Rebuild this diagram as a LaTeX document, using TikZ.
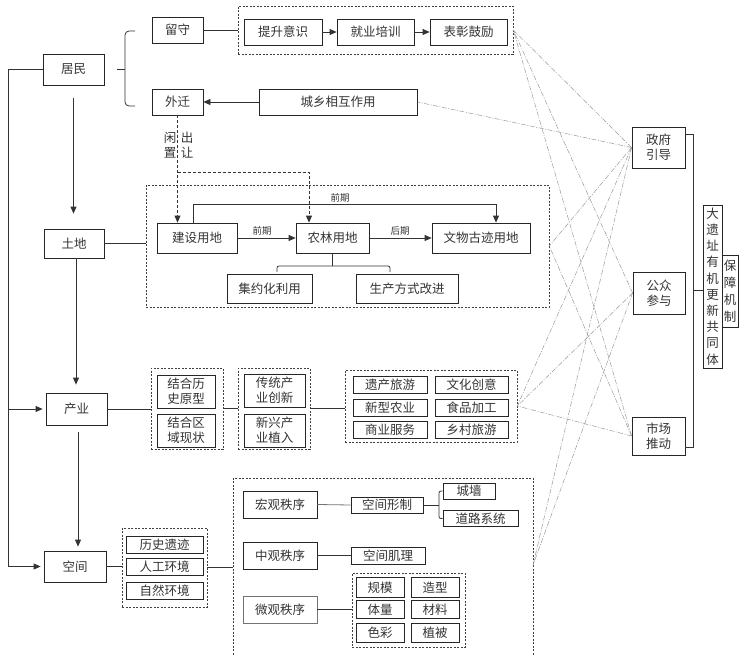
\documentclass[tikz,border=0pt]{standalone}
\usepackage{fontspec}
\setmainfont{Noto Sans CJK SC}
\usetikzlibrary{arrows.meta,calc}
\begin{document}
\begin{tikzpicture}[x=1pt,y=-1pt,
  every node/.style={font=\fontsize{12.5}{15}\selectfont, inner sep=0pt, text=black!80},
  box/.style={draw=black!85, line width=0.8pt, align=center},
  gbox/.style={box, draw=black!55},
  cont/.style={draw=black!75, dash pattern=on 2pt off 1.5pt, line width=0.6pt},
  ln/.style={draw=black!80, line width=0.8pt},
  arr/.style={ln, -{Triangle[length=7pt,width=6pt]}},
  darr/.style={arr, dash pattern=on 3pt off 2pt},
  link/.style={draw=black!40, line width=0.5pt, dash pattern=on 5pt off 1.5pt on 1pt off 1.5pt},
  small/.style={font=\fontsize{9.5}{11}\selectfont}
]
\useasboundingbox (0,0) rectangle (745,656);
\clip (0,0) rectangle (745,656);

% ---------- containers ----------
\node[cont, minimum width=275pt, minimum height=48pt] (c1) at (375.5,30) {};
\node[cont, minimum width=403pt, minimum height=122pt] (c2) at (347.5,246) {};
\node[cont, minimum width=72pt, minimum height=81pt] (c3a) at (187,408.5) {};
\node[cont, minimum width=72pt, minimum height=81pt] (c3b) at (274,408.5) {};
\node[cont, minimum width=172pt, minimum height=72pt] (c3c) at (431,406) {};
\node[cont, minimum width=85pt, minimum height=79pt] (c4a) at (164.5,567.5) {};
\node[cont, minimum width=300pt, minimum height=202pt] (c4b) at (383,579) {};
\node[cont, minimum width=113pt, minimum height=74pt] (c4c) at (408.5,610) {};

% ---------- left column ----------
\node[box, minimum width=61pt, minimum height=31pt] (jumin) at (73.5,69.5) {居民};
\node[box, minimum width=60pt, minimum height=29pt] (tudi) at (74,243.5) {土地};
\node[box, minimum width=61pt, minimum height=32pt] (chanye) at (76.5,409) {产业};
\node[box, minimum width=62pt, minimum height=31pt] (kongjian) at (75,566.5) {空间};

% ---------- residents ----------
\node[box, minimum width=51pt, minimum height=26pt] (liushou) at (177.5,30) {留守};
\node[box, minimum width=51pt, minimum height=26pt] (waiqian) at (177.5,102) {外迁};
\node[box, minimum width=78pt, minimum height=26pt] (tisheng) at (283,32) {提升意识};
\node[box, minimum width=77pt, minimum height=26pt] (jiuye) at (375.5,32) {就业培训};
\node[box, minimum width=77pt, minimum height=26pt] (biaozhang) at (468.5,32) {表彰鼓励};
\node[box, minimum width=158pt, minimum height=26pt] (chengxiang) at (338,102) {城乡相互作用};
\node (xianzhi) at (170,145) [align=center] {闲\\置};
\node (churang) at (187,145) [align=center] {出\\让};

% ---------- land ----------
\node[box, minimum width=80pt, minimum height=30pt] (jianshe) at (197,238) {建设用地};
\node[box, minimum width=73pt, minimum height=30pt] (nonglin) at (332.5,238) {农林用地};
\node[box, minimum width=98pt, minimum height=30pt] (wenwu) at (481,238) {文物古迹用地};
\node[box, minimum width=85pt, minimum height=29pt] (jiyue) at (269.5,288.5) {集约化利用};
\node[box, minimum width=102pt, minimum height=29pt] (shengchan) at (407,288.5) {生产方式改进};
\node[small] (lq1) at (262,231) {前期};
\node[small] (lh) at (400,231) {后期};
\node[small] (lq2) at (340,198) {前期};

% ---------- industry ----------
\node[box, minimum width=58pt, minimum height=33pt] (lishi) at (186,391.5) {结合历\\史原型};
\node[box, minimum width=58pt, minimum height=33pt] (quyu) at (186,430.5) {结合区\\域现状};
\node[box, minimum width=61pt, minimum height=33pt] (chuantong) at (274.5,390.5) {传统产\\业创新};
\node[box, minimum width=61pt, minimum height=33pt] (xinxing) at (274.5,430.5) {新兴产\\业植入};
\node[box, minimum width=74pt, minimum height=17pt] (yichan) at (390,385) {遗产旅游};
\node[box, minimum width=73pt, minimum height=17pt] (wenhua) at (471.5,385) {文化创意};
\node[box, minimum width=74pt, minimum height=17pt] (nongye) at (390,407.5) {新型农业};
\node[box, minimum width=73pt, minimum height=17pt] (shipin) at (471.5,407.5) {食品加工};
\node[box, minimum width=74pt, minimum height=17pt] (shangye) at (390,429.5) {商业服务};
\node[box, minimum width=73pt, minimum height=17pt] (xiangcun) at (471.5,429.5) {乡村旅游};

% ---------- space ----------
\node[box, minimum width=77pt, minimum height=17pt] (lishiyiji) at (164.5,545) {历史遗迹};
\node[box, minimum width=77pt, minimum height=17pt] (rengong) at (164.5,567) {人工环境};
\node[box, minimum width=77pt, minimum height=17pt] (ziran) at (164.5,590.5) {自然环境};
\node[box, minimum width=74pt, minimum height=27pt] (hongguan) at (280,504.5) {宏观秩序};
\node[box, minimum width=74pt, minimum height=27pt] (zhongguan) at (280,555.5) {中观秩序};
\node[gbox, minimum width=74pt, minimum height=27pt] (weiguan) at (280,609.5) {微观秩序};
\node[box, minimum width=72pt, minimum height=16pt] (kjxz) at (387,505) {空间形制};
\node[box, minimum width=52pt, minimum height=16pt] (chengqiang) at (469,491) {城墙};
\node[box, minimum width=75pt, minimum height=16pt] (daolu) at (480.5,518.5) {道路系统};
\node[box, minimum width=74pt, minimum height=17pt] (jili) at (388,555.5) {空间肌理};
\node[box, minimum width=48pt, minimum height=20pt] (guimo) at (380,587.5) {规模};
\node[box, minimum width=48pt, minimum height=20pt] (zaoxing) at (435,587.5) {造型};
\node[box, minimum width=48pt, minimum height=18pt] (tiliang) at (380,609.5) {体量};
\node[box, minimum width=48pt, minimum height=18pt] (cailiao) at (435,609.5) {材料};
\node[box, minimum width=48pt, minimum height=19pt] (secai) at (380,633) {色彩};
\node[box, minimum width=48pt, minimum height=19pt] (zhibei) at (435,633) {植被};

% ---------- right ----------
\node[box, minimum width=53pt, minimum height=41pt] (zhengfu) at (658.5,147.5) {政府\\引导};
\node[box, minimum width=52pt, minimum height=42pt] (gongzhong) at (659,293) {公众\\参与};
\node[box, minimum width=53pt, minimum height=38pt] (shichang) at (658.5,436) {市场\\推动};
\node[box, minimum width=19pt, minimum height=163pt, font=\fontsize{12.5}{16.2}\selectfont] (dayizhi) at (712.5,286.5) {大\\遗\\址\\有\\机\\更\\新\\共\\同\\体};
\node[box, minimum width=16pt, minimum height=72pt, font=\fontsize{12.5}{17}\selectfont] (baozhang) at (730,291) {保\\障\\机\\制};

% ---------- coordinates ----------
\coordinate (La) at (8,69.5);
\coordinate (Lb) at (8,409);
\coordinate (Lc) at (8,566.5);
\coordinate (bt) at (125,69.5);
\coordinate (bT) at (135,31);
\coordinate (bB) at (135,106);
\coordinate (fork) at (177.5,172);
\coordinate (N) at (332.5,266);
\coordinate (N1) at (277,272);
\coordinate (N2) at (390,272);
\coordinate (Q) at (439,505);
\coordinate (R1) at (693,134);
\coordinate (R2) at (693,447);
\coordinate (R3) at (693,290);
\coordinate (E) at (533,565);

% ---------- main tree ----------
\draw[ln] (jumin.west) -- (La) -- (Lc);
\draw[arr, shorten >=3pt] (Lb) -- (chanye.west);
\draw[arr, shorten >=3pt] (Lc) -- (kongjian.west);
\draw[arr, shorten <=13pt, shorten >=15pt] (jumin.south) -- (jumin.south |- tudi.north);
\draw[arr, shorten >=8pt] ([xshift=2pt]tudi.south) -- ([xshift=2pt]tudi.south |- chanye.north);
\draw[arr, shorten <=7pt, shorten >=4pt] ([xshift=1.5pt]chanye.south) -- ([xshift=1.5pt]chanye.south |- kongjian.north);

% residents
\draw[ln, shorten <=13pt] (jumin.east) -- (bt);
\draw[ln, rounded corners=4pt] (bT) -- (bT -| bt) -- (bB -| bt) -- (bB);
\draw[ln] (liushou.east) -- (c1.west);
\draw[arr] (tisheng) -- (jiuye);
\draw[arr] (jiuye) -- (biaozhang);
\draw[arr] (chengxiang.west) -- (waiqian.east);
\draw[darr] (waiqian.south) -- (waiqian.south |- jianshe.north);
\draw[darr] (fork) -| ([xshift=-23.5pt]nonglin.north);

% land
\draw[ln] (tudi.east) -- (tudi.east -| c2.west);
\draw[arr] (jianshe) -- (nonglin);
\draw[arr] (nonglin) -- (wenwu);
\draw[arr] ([xshift=-4pt]jianshe.north) -- ++(0,-18) -| ([xshift=15pt]wenwu.north);
\draw[ln] (nonglin.south) -- (N);
\draw[ln, rounded corners=2pt] (N1) -- (N1 |- N) -- (N2 |- N) -- (N2);

% industry
\draw[ln] (chanye.east) -- (chanye.east -| c3a.west);
\draw[ln] (c3a.east) -- (c3b.west);
\draw[ln] (c3b.east) -- (c3b.east -| c3c.west);

% space
\draw[ln] (kongjian.east) -- (kongjian.east -| c4a.west);
\draw[ln] (c4a.east) -- (c4a.east -| c4b.west);
\draw[ln, draw=black!55] (hongguan.east) -- (kjxz.west);
\draw[ln] (kjxz.east) -- (Q);
\draw[ln, rounded corners=2pt] (chengqiang.west) -| (Q) |- (daolu.west);
\draw[ln] (zhongguan.east) -- (jili.west);
\draw[ln] (weiguan.east) -- (weiguan.east -| c4c.west);

% right bracket
\draw[ln] (R1 -| zhengfu.east) -- (R1) -- (R2) -- (R2 -| shichang.east);
\draw[ln] (R3) -- (R3 -| dayizhi.west);

% mechanism links
\draw[link] (zhengfu.west) -- (c1.east);
\draw[link] (zhengfu.west) -- (chengxiang.east);
\draw[link] (zhengfu.west) -- (c2.east);
\draw[link] (zhengfu.west) -- (c3c.east);
\draw[link] (zhengfu.west) -- (E);
\draw[link] (gongzhong.west) -- (c1.east);
\draw[link] (gongzhong.west) -- (c3c.east);
\draw[link] (gongzhong.west) -- (E);
\draw[link] (shichang.west) -- (c1.east);
\draw[link] (shichang.west) -- (c2.east);
\draw[link] (shichang.west) -- (c3c.east);
\end{tikzpicture}
\end{document}
